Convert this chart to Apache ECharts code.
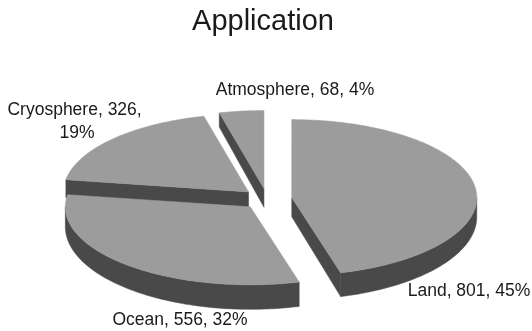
<!DOCTYPE html>
<html>
<head>
<meta charset="utf-8">
<style>
  html, body { margin: 0; padding: 0; background: #ffffff; }
  #chart { width: 532px; height: 331px; }
</style>
<script src="https://cdn.jsdelivr.net/npm/echarts@6/dist/echarts.min.js"></script>
</head>
<body>
<div id="chart"></div>
<script>
// Slices, clockwise from 12 o'clock
const categories = ['Land', 'Ocean', 'Cryosphere', 'Atmosphere'];
const values = [801, 556, 326, 68];
const percentLabels = [45, 32, 19, 4];

// Layout of the tilted pie (pixels)
const CX = 267, CY = 199;      // pie centre on screen
const RX = 185, RY = 78;       // ellipse radii of the top face
const EXPLODE = 25;            // slice offset from the centre
// thickness grows towards the viewer
function depthAt(y) { return 14 + (y - 110) * 0.06; }

// label anchors (centre of text block)
const labelAnchors = [[469, 291.5], [180, 320], [77, 121.75], [295, 90]];
const labelWidths = [null, null, 140, null];

const TOP_COLOR = '#9c9c9c';
const SIDE_COLOR = '#494949';
const FONT = 'Liberation Sans, Arial, sans-serif';

const total = values.reduce((s, v) => s + v, 0);
const startAngles = [];
values.reduce((acc, v) => { startAngles.push(acc); return acc + v / total * 360; }, 0);

function slicePlacement(i) {
  const a0 = startAngles[i];
  const a1 = a0 + values[i] / total * 360;
  const mid = (a0 + a1) / 2 * Math.PI / 180;
  const ax = CX + EXPLODE * Math.sin(mid);
  const ay = CY - EXPLODE * (RY / RX) * Math.cos(mid);
  return { a0, a1, ax, ay };
}

// draw order: slices further back first
const order = categories.map((_, i) => i)
  .sort((p, q) => slicePlacement(p).ay - slicePlacement(q).ay);
const rank = [];
order.forEach((idx, r) => { rank[idx] = r; });

function rim(ax, ay, deg) {
  const t = deg * Math.PI / 180;
  return [ax + RX * Math.sin(t), ay - RY * Math.cos(t)];
}
function drop(p) { return [p[0], p[1] + depthAt(p[1])]; }

function arcPoints(ax, ay, from, to) {
  const pts = [];
  const n = Math.max(2, Math.ceil(Math.abs(to - from)));
  for (let k = 0; k <= n; k++) pts.push(rim(ax, ay, from + (to - from) * k / n));
  return pts;
}

function renderItem(params, api) {
  const i = params.dataIndex;
  const v = api.value(0);
  const a0 = startAngles[i];
  const a1 = a0 + v / total * 360;
  const { ax, ay } = slicePlacement(i);
  const apex = [ax, ay];
  const base = rank[i] * 10;
  const children = [];
  const side = (pts) => children.push({
    type: 'polygon', shape: { points: pts },
    style: { fill: SIDE_COLOR, stroke: SIDE_COLOR, lineWidth: 0.5 }, z2: base + 1
  });

  // curved outer wall, front half only
  const f0 = Math.max(a0, 90), f1 = Math.min(a1, 270);
  if (f1 > f0) {
    const topArc = arcPoints(ax, ay, f0, f1);
    side(topArc.concat(topArc.slice().reverse().map(drop)));
  }
  // cut faces turned towards the viewer
  if (Math.sin(a0 * Math.PI / 180) < -1e-6) {
    const r = rim(ax, ay, a0);
    side([apex, r, drop(r), drop(apex)]);
  }
  if (Math.sin(a1 * Math.PI / 180) > 1e-6) {
    const r = rim(ax, ay, a1);
    side([apex, r, drop(r), drop(apex)]);
  }
  // top face
  children.push({
    type: 'polygon', shape: { points: [apex].concat(arcPoints(ax, ay, a0, a1)) },
    style: { fill: TOP_COLOR, stroke: TOP_COLOR, lineWidth: 0.5 }, z2: base + 2
  });
  // data label
  const lbl = {
    type: 'text', z2: 100,
    style: {
      text: categories[i] + ', ' + v + ', ' + percentLabels[i] + '%',
      x: labelAnchors[i][0], y: labelAnchors[i][1],
      align: 'center', verticalAlign: 'middle',
      fill: '#1a1a1a', fontSize: 17.5, fontFamily: FONT,
      lineHeight: 23.5
    }
  };
  if (labelWidths[i]) { lbl.style.width = labelWidths[i]; lbl.style.overflow = 'break'; }
  children.push(lbl);
  return { type: 'group', children };
}

const chart = echarts.init(document.getElementById('chart'), null, { renderer: 'canvas' });
chart.setOption({
  backgroundColor: '#ffffff',
  animation: false,
  title: {
    text: 'Application',
    left: 263, top: 7, textAlign: 'center', padding: 0,
    textStyle: { fontFamily: FONT, fontSize: 29, fontWeight: 'normal', color: '#1a1a1a' }
  },
  series: [{
    type: 'custom',
    coordinateSystem: 'none',
    renderItem: renderItem,
    data: values
  }]
});
</script>
</body>
</html>
